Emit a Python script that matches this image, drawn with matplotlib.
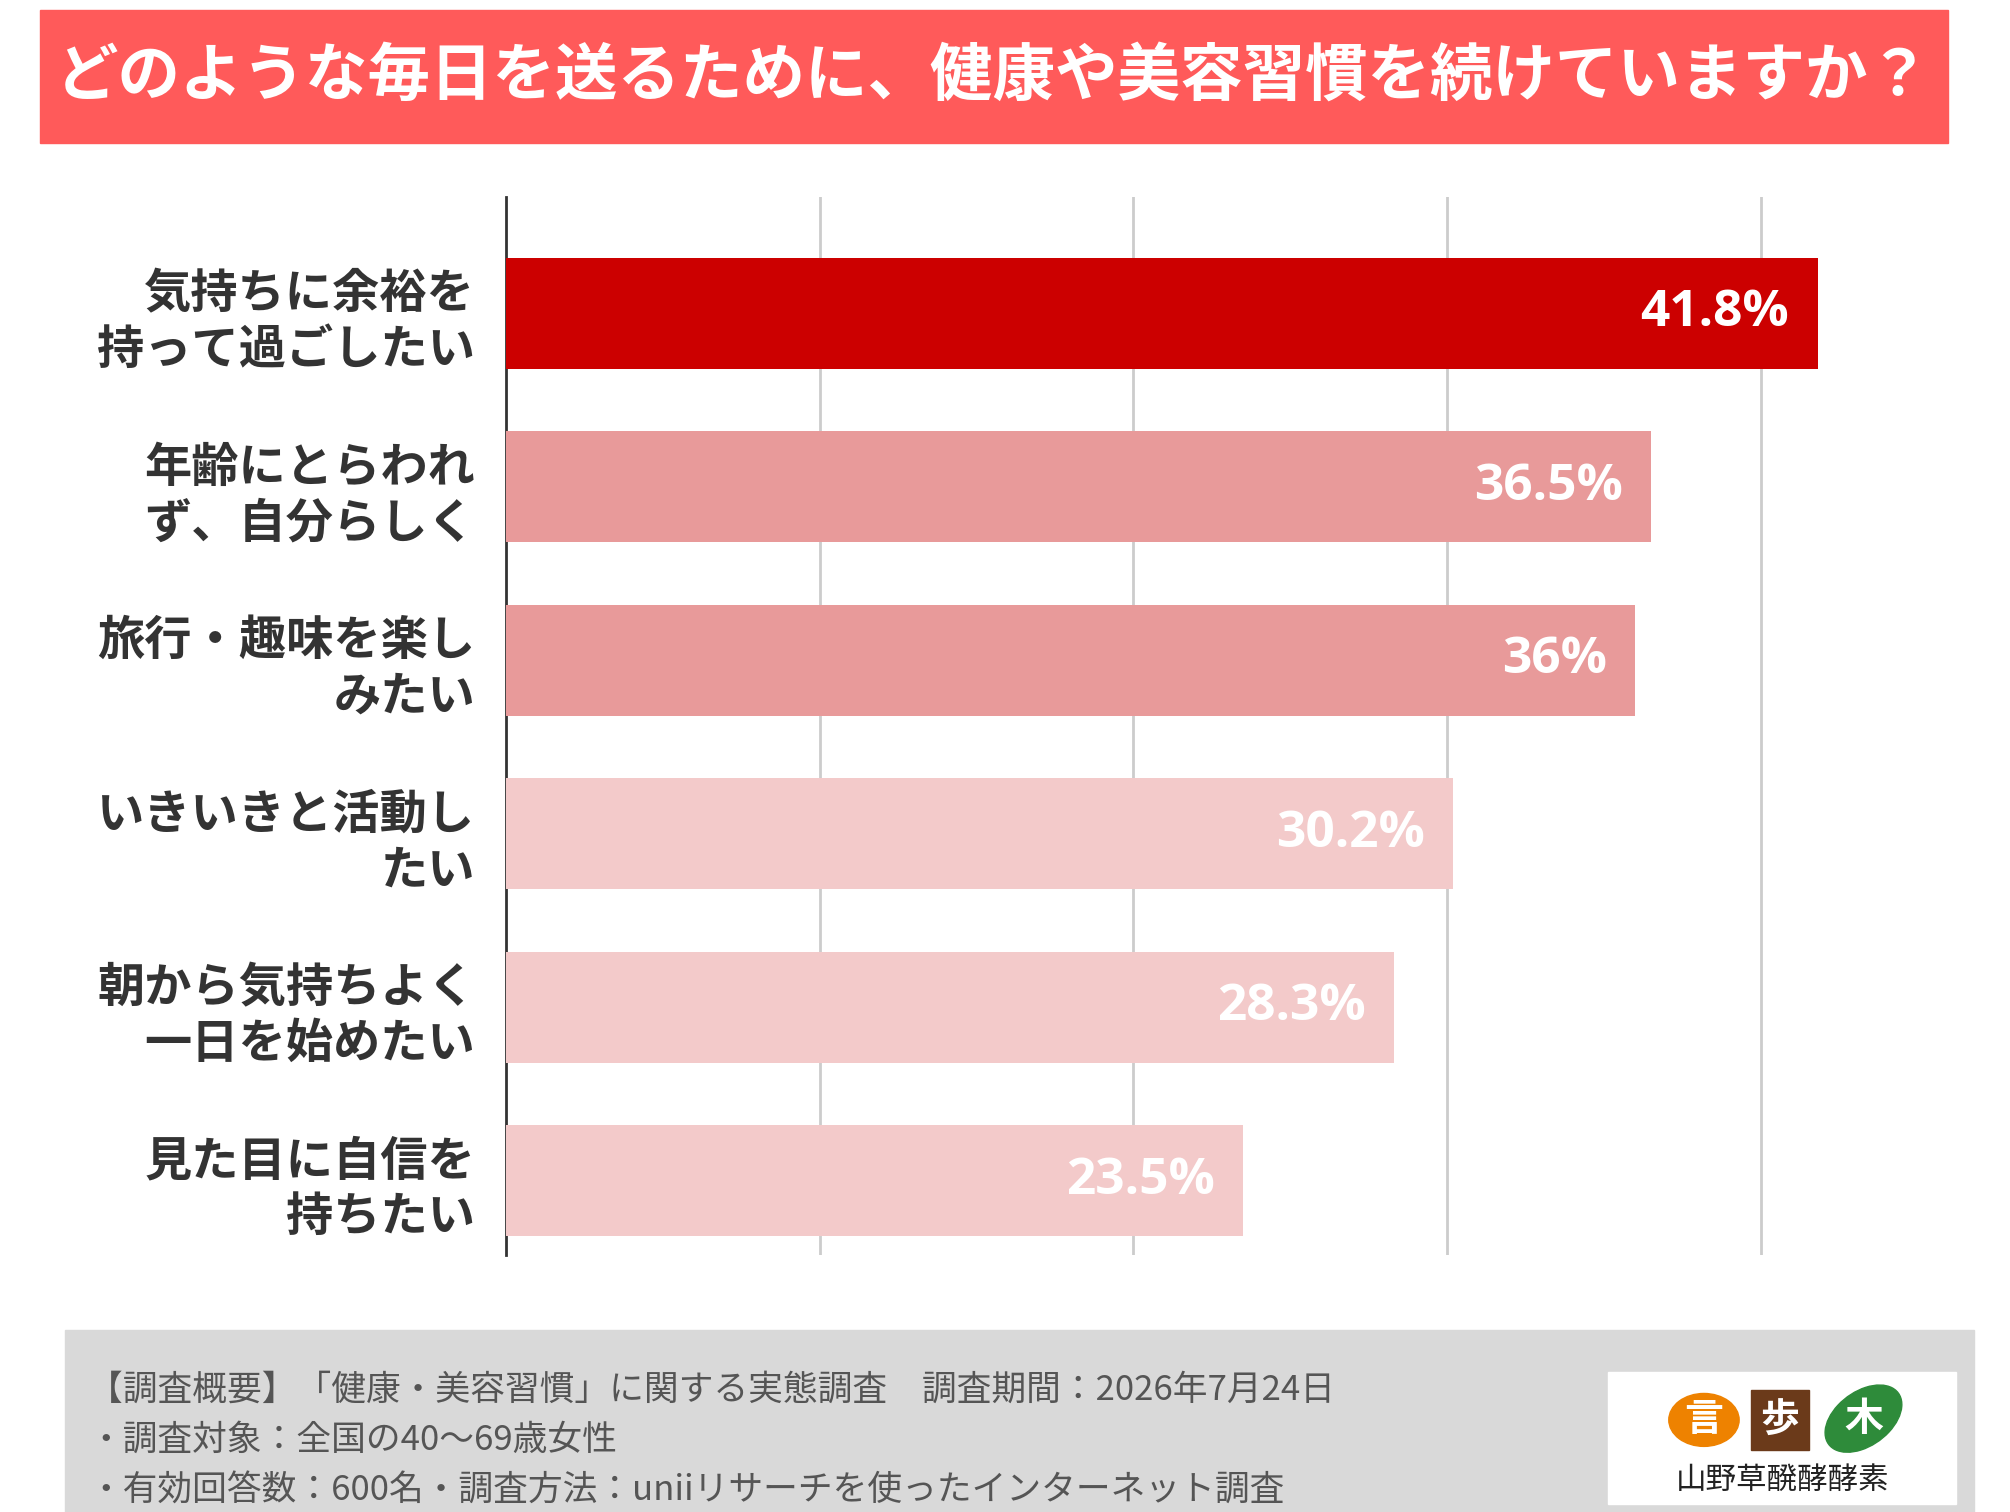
import matplotlib.pyplot as plt
from matplotlib.patches import Rectangle, Circle, Ellipse

plt.rcParams['font.family'] = ['Noto Sans CJK JP', 'DejaVu Sans']

labels = ['気持ちに余裕を\n持って過ごしたい', '年齢にとらわれ\nず、自分らしく', '旅行・趣味を楽し\nみたい',
          'いきいきと活動し\nたい', '朝から気持ちよく\n一日を始めたい', '見た目に自信を\n持ちたい']
values = [41.8, 36.5, 36.0, 30.2, 28.3, 23.5]
value_text = ['41.8%', '36.5%', '36%', '30.2%', '28.3%', '23.5%']
colors = ['#CC0000', '#E89A9A', '#E89A9A', '#F3CACA', '#F3CACA', '#F3CACA']

W, H = 1550.0, 1166.0
fig = plt.figure(figsize=(20.1, 15.12), dpi=100)


def fx(x):
    return x / W


def fy(y):
    return 1 - y / H


# title band
fig.patches.append(Rectangle((fx(31), fy(110)), fx(1502) - fx(31), fy(8) - fy(110),
                             transform=fig.transFigure, color='#FF5A5A', zorder=0))
fig.text(fx(766), fy(59), 'どのような毎日を送るために、健康や美容習慣を続けていますか？',
         color='white', fontsize=45, fontweight='bold', ha='center', va='center')

ax = fig.add_axes([fx(390), fy(968), fx(1479) - fx(390), fy(152) - fy(968)])
y = list(range(len(values)))
ax.barh(y, values, height=0.64, color=colors, zorder=3)
for i, v in enumerate(values):
    ax.text(v - 0.9, i, value_text[i], color='white', fontsize=37, fontweight='bold',
            ha='right', va='center', zorder=4, family=['Open Sans', 'DejaVu Sans'])
ax.set_xlim(0, 45)
ax.set_ylim(len(values) - 1 + 0.43, -0.67)
ax.set_xticks([10, 20, 30, 40])
ax.set_xticklabels([])
ax.tick_params(length=0)
ax.grid(axis='x', color='#CCCCCC', linewidth=2, zorder=0)
ax.set_yticks(y)
ax.set_yticklabels(labels, fontsize=34, color='#333333', fontweight='bold', linespacing=1.2)
ax.tick_params(axis='y', pad=22)
for s in ['top', 'right', 'bottom']:
    ax.spines[s].set_visible(False)
ax.spines['left'].set_color('#333333')
ax.spines['left'].set_linewidth(2)

# footer
fig.patches.append(Rectangle((fx(50), 0), fx(1522) - fx(50), fy(1026),
                             transform=fig.transFigure, color='#D9D9D9', zorder=0))
foot = ['【調査概要】「健康・美容習慣」に関する実態調査　調査期間：2026年7月24日',
        '・調査対象：全国の40〜69歳女性',
        '・有効回答数：600名・調査方法：uniiリサーチを使ったインターネット調査']
for i, t in enumerate(foot):
    fig.text(fx(68), fy(1072 + 39 * i), t, fontsize=25, color='#555555', va='center')

# logo
fig.patches.append(Rectangle((fx(1240), fy(1160)), fx(1508) - fx(1240), fy(1058) - fy(1160),
                             transform=fig.transFigure, color='white', zorder=1))
fig.patches.append(Circle((fx(1314), fy(1095)), 0.0175, transform=fig.transFigure,
                          color='#EE8200', zorder=2))
fig.patches.append(Rectangle((fx(1350), fy(1118)), fx(1395) - fx(1350), fy(1072) - fy(1118),
                             transform=fig.transFigure, color='#6B3A1A', zorder=2))
fig.patches.append(Ellipse((fx(1437), fy(1094)), fx(48), fx(58) * W / H, angle=-35,
                           transform=fig.transFigure, color='#2E8B3A', zorder=2))
for cx, ch in [(1314, '言'), (1372, '歩'), (1437, '木')]:
    fig.text(fx(cx), fy(1095), ch, color='white', fontsize=28, fontweight='bold',
             ha='center', va='center', zorder=3)
fig.text(fx(1375), fy(1142), '山野草醗酵酵素', fontsize=22, color='#222222',
         ha='center', va='center', zorder=3)

fig.savefig('out.png', dpi=100)
